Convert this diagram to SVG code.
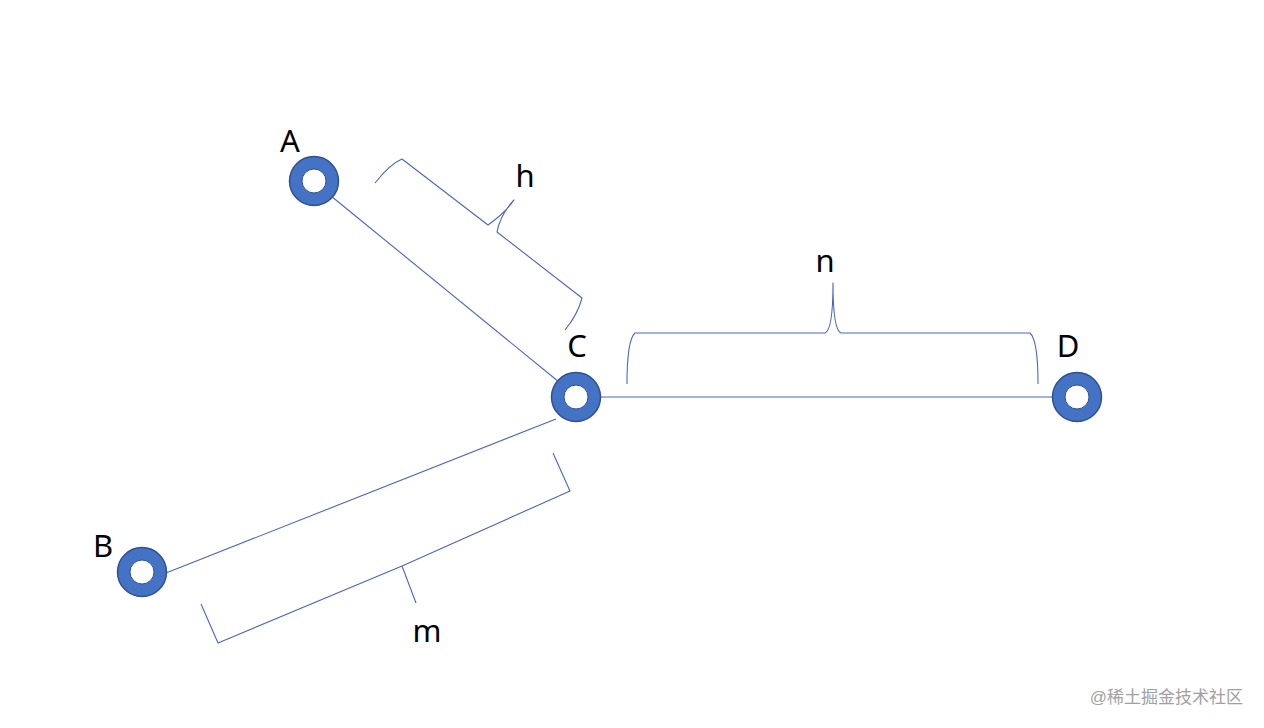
<svg xmlns="http://www.w3.org/2000/svg" width="1264" height="728" viewBox="0 0 1264 728">
<style>
.ring{fill:#4472C4;stroke:#2F528F;stroke-width:1.5}
.hole{fill:#fff;stroke:#2F528F;stroke-width:1}
.ln{fill:none;stroke:#4A67BE;stroke-width:1.1}
.br{fill:none;stroke:#4A67BE;stroke-width:1.1;stroke-linejoin:round}
.lbl{font-family:"Noto Sans","Open Sans",sans-serif;font-size:31px;fill:#000}
.wm{font-family:"Liberation Sans","Noto Sans CJK SC",sans-serif;font-size:17px;fill:#a0a0a0}
</style>
<rect width="1264" height="728" fill="#fff"/>
<g id="connectors">
<line class="ln" x1="331" y1="196" x2="559" y2="382"/>
<line class="ln" x1="166" y1="573" x2="556" y2="419"/>
<line class="ln" x1="600" y1="397" x2="1053" y2="397"/>
</g>
<g id="brace-h">
<path class="br" d="M375,183 Q390,164 402,159 L488,225 Q506,212 514,200 Q500,215 497,232 L582,298 Q578,314 565,330"/>
<text class="lbl" x="525" y="187" text-anchor="middle">h</text>
</g>
<g id="brace-n">
<path class="br" d="M627,384 Q627,340 635,333 L825,333 Q833,330 833,283 Q833,330 841,333 L1030,333 Q1038,340 1038,384"/>
<text class="lbl" x="825" y="272" text-anchor="middle">n</text>
</g>
<g id="brace-m">
<path class="br" d="M201,604 L218,643 L402,566 L416,603 M402,566 L570,491 L553,453"/>
<text class="lbl" x="427" y="642" text-anchor="middle">m</text>
</g>
<g id="node-A">
<circle class="ring" cx="314" cy="181" r="24.5"/>
<circle class="hole" cx="314" cy="181" r="12"/>
<text class="lbl" x="290" y="152" text-anchor="middle">A</text>
</g>
<g id="node-C">
<circle class="ring" cx="576" cy="397" r="24.5"/>
<circle class="hole" cx="576" cy="397" r="12"/>
<text class="lbl" x="577" y="357" text-anchor="middle">C</text>
</g>
<g id="node-D">
<circle class="ring" cx="1077" cy="397" r="24.5"/>
<circle class="hole" cx="1077" cy="397" r="12"/>
<text class="lbl" x="1068" y="357" text-anchor="middle">D</text>
</g>
<g id="node-B">
<circle class="ring" cx="142" cy="572" r="24.5"/>
<circle class="hole" cx="142" cy="572" r="12"/>
<text class="lbl" x="103" y="557" text-anchor="middle">B</text>
</g>
<text class="wm" x="1243" y="703" text-anchor="end">@稀土掘金技术社区</text>
</svg>
